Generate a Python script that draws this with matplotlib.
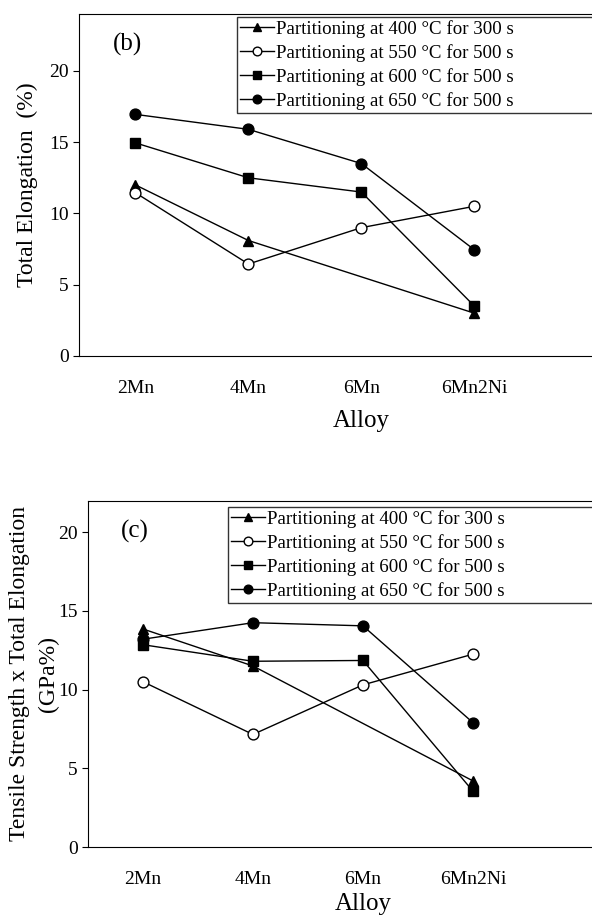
import matplotlib.pyplot as plt
import numpy as np

plt.rcParams['font.family'] = ['Liberation Serif', 'DejaVu Serif']

alloys = ["2Mn", "4Mn", "6Mn", "6Mn2Ni"]
labels = ["Partitioning at 400 \u00b0C for 300 s",
          "Partitioning at 550 \u00b0C for 500 s",
          "Partitioning at 600 \u00b0C for 500 s",
          "Partitioning at 650 \u00b0C for 500 s"]

# (b) total elongation, %  (400 C has no 6Mn point)
te_400 = [12.0, 8.1, None, 3.0]
te_550 = [11.45, 6.45, 9.0, 10.5]
te_600 = [14.95, 12.5, 11.5, 3.5]
te_650 = [16.95, 15.9, 13.5, 7.45]

# (c) tensile strength x total elongation, GPa%
pse_400 = [13.85, 11.5, None, 4.2]
pse_550 = [10.5, 7.15, 10.3, 12.25]
pse_600 = [12.85, 11.8, 11.85, 3.55]
pse_650 = [13.2, 14.25, 14.05, 7.9]

styles = [dict(marker="^", mfc="black"),
          dict(marker="o", mfc="white"),
          dict(marker="s", mfc="black"),
          dict(marker="o", mfc="black")]


def draw(ax, series, ylim, panel, ylabel, leg_box):
    x = np.arange(len(alloys))
    for vals, st, lab in zip(series, styles, labels):
        xs = [xi for xi, v in zip(x, vals) if v is not None]
        ys = [v for v in vals if v is not None]
        ax.plot(xs, ys, color="black", lw=1.0, mec="black", ms=7.8,
                label=lab, **st)
    ax.set_xlim(-0.5, 4.5)
    ax.set_ylim(*ylim)
    ax.set_yticks([0, 5, 10, 15, 20])
    ax.set_xticks(x)
    ax.set_xticklabels(alloys)
    ax.tick_params(axis="x", length=0, pad=17, labelsize=14)
    ax.tick_params(axis="y", direction="out", length=4, labelsize=14)
    ax.spines["right"].set_visible(False)
    ax.set_xlabel("Alloy", fontsize=18)
    ax.set_ylabel(ylabel, fontsize=17, linespacing=1.5)
    ax.text(0.06, 0.91, panel, transform=ax.transAxes, fontsize=18,
            ha="left", va="center")
    leg = ax.legend(loc="upper left", bbox_to_anchor=leg_box, mode="expand",
                    fontsize=13.6, frameon=True, fancybox=False, edgecolor="black",
                    handlelength=1.8, handletextpad=0.1, borderpad=0.15,
                    labelspacing=0.33, borderaxespad=0, markerscale=0.8)
    leg.get_frame().set_linewidth(1.0)


fig = plt.figure(figsize=(5.92, 9.15), dpi=100)

ax1 = fig.add_axes([0.1334, 0.611, 0.954, 0.3738])
draw(ax1, [te_400, te_550, te_600, te_650], (0, 24), "(b)",
     "Total Elongation  (%)", (0.2796, 0.713, 0.8, 0.278))
ax1.xaxis.labelpad = 10
ax1.yaxis.labelpad = 8

ax2 = fig.add_axes([0.1486, 0.0743, 0.929, 0.3785])
draw(ax2, [pse_400, pse_550, pse_600, pse_650], (0, 22), "(c)",
     "Tensile Strength x Total Elongation\n(GPa%)", (0.2545, 0.702, 0.8, 0.28))
ax2.xaxis.labelpad = 4
ax2.yaxis.labelpad = -1

fig.savefig("out.png", dpi=100)
